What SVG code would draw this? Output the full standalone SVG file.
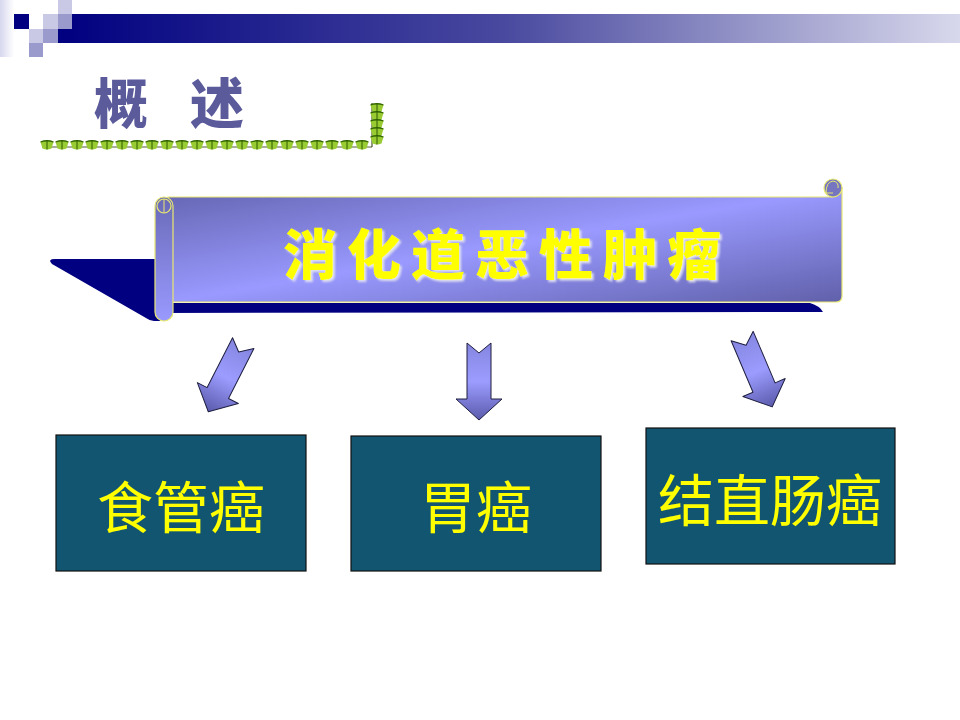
<svg xmlns="http://www.w3.org/2000/svg" xmlns:xlink="http://www.w3.org/1999/xlink" width="960" height="720" viewBox="0 0 960 720">
<defs>
<style>
.cjk{font-family:"Noto Sans CJK SC","Noto Sans CJK TC",sans-serif;}
.box{fill:#115570;stroke:#111;stroke-width:1.2;}
.boxtxt{fill:#ffff00;font-size:56px;font-weight:400;text-anchor:middle;dominant-baseline:central;}
.arrow{fill:url(#arrowGrad);stroke:#1e1e40;stroke-width:1;stroke-linejoin:round;}
.sq1{fill:#c9c9e6;}
.sq2{fill:#9a9acd;}
</style>
<filter id="txtShadow" x="-5%" y="-20%" width="110%" height="140%">
<feDropShadow dx="2" dy="2" stdDeviation="0.8" flood-color="#e0e0f0" flood-opacity="1"/>
</filter>
<linearGradient id="barGrad" x1="0" y1="0" x2="1" y2="0">
<stop offset="0" stop-color="#000080"/>
<stop offset="0.5" stop-color="#4a4aa0"/>
<stop offset="1" stop-color="#d8d8ec"/>
</linearGradient>
<linearGradient id="colGrad" x1="0" y1="0" x2="1" y2="0">
<stop offset="0" stop-color="#d6d6ee"/>
<stop offset="1" stop-color="#ffffff"/>
</linearGradient>
<linearGradient id="bodyGrad" x1="0" y1="0" x2="1" y2="1">
<stop offset="0" stop-color="#6464b0"/>
<stop offset="0.5" stop-color="#9999ff"/>
<stop offset="1" stop-color="#6060aa"/>
</linearGradient>
<linearGradient id="rollGrad" x1="0" y1="0" x2="0" y2="1">
<stop offset="0" stop-color="#6a6ab8"/>
<stop offset="1" stop-color="#9999ff"/>
</linearGradient>
<linearGradient id="arrowGrad" x1="0" y1="0" x2="0" y2="1">
<stop offset="0" stop-color="#8585e0"/>
<stop offset="0.5" stop-color="#9c9cff"/>
<stop offset="1" stop-color="#5a5aac"/>
</linearGradient>
<g id="leaf">
<path d="M-6.5,-3 Q0,-6 6.5,-3 L4.5,3.5 Q0,5.5 -4.5,3.5 Z" fill="#99cc33"/>
<path d="M-6.5,-3 Q0,-5.5 6.5,-3" stroke="#336600" stroke-width="1.3" fill="none"/>
<line x1="0" y1="-5" x2="0" y2="4.5" stroke="#2d5a00" stroke-width="1"/>
</g>
<path id="arrowShape" d="M-12,-38 L0,-28 L12,-38 L12,18 L23,18 L0,39 L-23,18 L-12,18 Z"/>
</defs>

<!-- header decoration -->
<g id="header">
<rect x="0" y="0" width="14" height="57" fill="url(#colGrad)"/>
<rect x="58" y="14" width="902" height="29" fill="url(#barGrad)"/>
<rect class="sq1" x="58" y="0" width="14" height="14"/>
<rect x="14" y="14" width="15" height="15" fill="#000080"/>
<rect class="sq1" x="43" y="14" width="15" height="15"/>
<rect class="sq2" x="58" y="14" width="14" height="15"/>
<rect class="sq1" x="29" y="29" width="14" height="14"/>
<rect class="sq2" x="43" y="29" width="15" height="14"/>
<rect class="sq2" x="29" y="43" width="14" height="14"/>
</g>

<!-- title -->
<g id="title">
<text class="cjk" x="94" y="100" font-size="54" font-weight="900" fill="#5b5b9c" dominant-baseline="central">概</text>
<text class="cjk" x="190" y="100" font-size="54" font-weight="900" fill="#5b5b9c" dominant-baseline="central">述</text>
</g>

<!-- ornament line -->
<g id="ornament">
<line x1="372" y1="103" x2="372" y2="147" stroke="#223300" stroke-width="1"/>
<line x1="42" y1="147" x2="372" y2="147" stroke="#223300" stroke-width="0.8"/>
<use xlink:href="#leaf" x="47" y="145"/><use xlink:href="#leaf" x="62" y="145"/><use xlink:href="#leaf" x="77" y="145"/><use xlink:href="#leaf" x="92" y="145"/><use xlink:href="#leaf" x="107" y="145"/><use xlink:href="#leaf" x="122" y="145"/><use xlink:href="#leaf" x="137" y="145"/><use xlink:href="#leaf" x="152" y="145"/><use xlink:href="#leaf" x="167" y="145"/><use xlink:href="#leaf" x="182" y="145"/><use xlink:href="#leaf" x="197" y="145"/><use xlink:href="#leaf" x="212" y="145"/><use xlink:href="#leaf" x="227" y="145"/><use xlink:href="#leaf" x="242" y="145"/><use xlink:href="#leaf" x="257" y="145"/><use xlink:href="#leaf" x="272" y="145"/><use xlink:href="#leaf" x="287" y="145"/><use xlink:href="#leaf" x="302" y="145"/><use xlink:href="#leaf" x="317" y="145"/><use xlink:href="#leaf" x="332" y="145"/><use xlink:href="#leaf" x="347" y="145"/><use xlink:href="#leaf" x="362" y="145"/>
<use xlink:href="#leaf" x="377" y="108"/><use xlink:href="#leaf" x="377" y="116"/><use xlink:href="#leaf" x="377" y="124"/><use xlink:href="#leaf" x="377" y="132"/><use xlink:href="#leaf" x="377" y="140"/>
</g>

<!-- banner -->
<g id="banner">
<path d="M52,264 Q47,259 55,259 L160,259 L160,321 L154,321 Q150,321 146,318 Z" fill="#000080"/>
<path d="M160,303 L810,303 Q820,306 823,312 L160,313 Z" fill="#000080"/>
<path d="M168,197 L833,197 L842,188 L842,296 Q842,302 836,302 L168,302 Z" fill="url(#bodyGrad)" stroke="#e8e870" stroke-width="1.2"/>
<circle cx="833" cy="188" r="9" fill="#7575c0" stroke="#e8e870" stroke-width="1.2"/>
<path d="M833,193 L826,193 Q826,182 833,181 Q839,182 838,188" fill="none" stroke="#e8e870" stroke-width="1"/>
<rect x="155" y="197" width="18" height="124" rx="9" fill="url(#rollGrad)" stroke="#e8e870" stroke-width="1.2"/>
<circle cx="164" cy="206" r="7" fill="none" stroke="#e8e870" stroke-width="1.2"/>
<path d="M164,199 L164,213" stroke="#e8e870" stroke-width="1" fill="none"/>
<text class="cjk" x="283" y="251" font-size="54" font-weight="900" letter-spacing="10" fill="#ffff00" dominant-baseline="central" filter="url(#txtShadow)">消化道恶性肿瘤</text>
</g>

<!-- connectors -->
<g id="connectors">
<use xlink:href="#arrowShape" class="arrow" transform="translate(226,377) rotate(27)"/>
<use xlink:href="#arrowShape" class="arrow" transform="translate(479,381)"/>
<use xlink:href="#arrowShape" class="arrow" transform="translate(757,371) rotate(-23)"/>
</g>

<!-- nodes -->
<g id="node-esophageal">
<rect class="box" x="56" y="435" width="250" height="136"/>
<text class="cjk boxtxt" x="181" y="503">食管癌</text>
</g>
<g id="node-gastric">
<rect class="box" x="351" y="436" width="250" height="135"/>
<text class="cjk boxtxt" x="476" y="503">胃癌</text>
</g>
<g id="node-colorectal">
<rect class="box" x="646" y="428" width="249" height="136"/>
<text class="cjk boxtxt" x="770" y="496">结直肠癌</text>
</g>
</svg>
